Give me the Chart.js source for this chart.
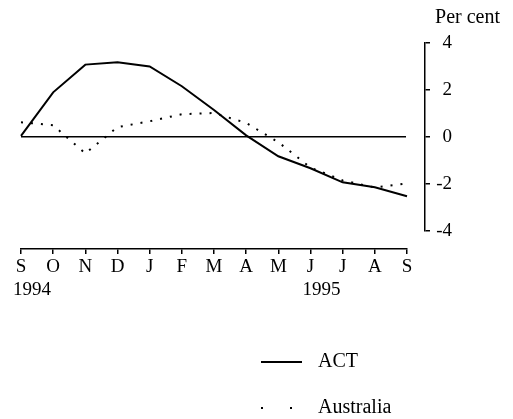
<!DOCTYPE html>
<html>
<head>
<meta charset="utf-8">
<script src="https://cdn.jsdelivr.net/npm/chart.js@4"></script>
<style>
  html, body { margin: 0; padding: 0; background: #fff; }
  #wrap { width: 513px; height: 419px; }
</style>
</head>
<body>
<div id="wrap"><canvas id="newChart"></canvas></div>
<script>
'use strict';

let months = ['S', 'O', 'N', 'D', 'J', 'F', 'M', 'A', 'M', 'J', 'J', 'A', 'S'];
let years = ['1994', '', '', '', '', '', '', '', '', '1995', '', '', ''];
let actValues = [0.05, 1.9, 3.08, 3.18, 3.0, 2.16, 1.15, 0.07, -0.82, -1.33, -1.93, -2.14, -2.52];
let ausValues = [0.63, 0.5, -0.7, 0.42, 0.67, 0.97, 1.02, 0.6, -0.22, -1.3, -1.85, -2.15, -1.97];
let yTicks = [-4, -2, 0, 2, 4];

Chart.defaults.font.family = "'Liberation Serif', 'Times New Roman', serif";
Chart.defaults.color = '#000';

// legend rows go under each other, below the month axis
const stackLegend = {
  id: 'stackLegend',
  beforeDraw(chart) {
    let lg = chart.legend;
    lg.left = 235;
    lg.right = 405;
    lg.top = 326;
    lg.bottom = 419;
  }
};

// keeps a gap between the plot and the axis lines
function padAxis(size, horizontal) {
  return function(scale) {
    if (horizontal) {
      scale.height = size;
    } else {
      scale.width = size;
    }
  };
}

const legendDash = [[41, 100], [2, 27, 2, 100]];

const config = {
  type: 'line',
  data: {
    labels: months,
    datasets: [{
      label: 'ACT',
      data: actValues,
      xAxisID: 'x',
      yAxisID: 'y',
      borderColor: '#000',
      backgroundColor: '#000',
      borderWidth: 2,
      pointRadius: 0,
      tension: 0
    },
    {
      label: 'Australia',
      data: ausValues,
      xAxisID: 'x',
      yAxisID: 'y',
      borderColor: '#000',
      backgroundColor: '#000',
      borderWidth: 2,
      borderDash: [2, 8],
      pointRadius: 0,
      tension: 0
    }]
  },
  options: {
    responsive: true,
    maintainAspectRatio: false,
    animation: false,
    layout: { padding: { left: 21, right: 13, top: 0, bottom: 63 } },
    scales: {
      x: {
        type: 'category',
        position: 'bottom',
        weight: 1,
        grid: { drawOnChartArea: false, tickLength: 5, color: '#000', lineWidth: 1.5 },
        border: { display: true, color: '#000', width: 1.5 },
        ticks: { autoSkip: false, maxRotation: 0, padding: 4, color: '#000', font: { size: 19, lineHeight: 1 } }
      },
      xPad: {
        type: 'category',
        position: 'bottom',
        weight: 0,
        labels: months,
        grid: { display: false, drawTicks: false },
        border: { display: false },
        ticks: { display: false },
        afterFit: padAxis(18, true)
      },
      xYear: {
        type: 'category',
        position: 'bottom',
        weight: 2,
        labels: years,
        grid: { display: false, drawTicks: false },
        border: { display: false },
        ticks: { autoSkip: false, maxRotation: 0, padding: 0, labelOffset: 11, color: '#000', font: { size: 19, lineHeight: 1 } }
      },
      y: {
        position: 'right',
        weight: 1,
        min: -4,
        max: 4,
        afterBuildTicks: function(scale) {
          scale.ticks = yTicks.map(v => ({ value: v }));
        },
        grid: {
          drawOnChartArea: true,
          color: ctx => (ctx.tick && ctx.tick.value === 0) ? '#000' : 'rgba(0,0,0,0)',
          lineWidth: 1.5,
          tickColor: '#000',
          tickLength: 5
        },
        border: { display: true, color: '#000', width: 1.5 },
        ticks: { padding: 2, crossAlign: 'far', color: '#000', font: { size: 19 } },
        afterFit: padAxis(27, false)
      },
      yPad: {
        position: 'right',
        weight: 0,
        min: -4,
        max: 4,
        grid: { display: false, drawTicks: false },
        border: { display: false },
        ticks: { display: false },
        afterFit: padAxis(18, false)
      },
      yOuter: {
        position: 'right',
        weight: 2,
        min: -4,
        max: 4,
        grid: { display: false, drawTicks: false },
        border: { display: false },
        ticks: { display: false },
        afterFit: padAxis(48, false)
      }
    },
    plugins: {
      title: {
        display: true,
        text: 'Per cent',
        align: 'end',
        color: '#000',
        font: { size: 20, weight: 'normal' },
        padding: { top: 6, bottom: 13 }
      },
      legend: {
        position: 'bottom',
        align: 'start',
        labels: {
          boxWidth: 47,
          boxHeight: 0,
          padding: 26,
          color: '#000',
          font: { size: 20 },
          generateLabels: function(chart) {
            let items = Chart.defaults.plugins.legend.labels.generateLabels(chart);
            items.forEach((item, i) => {
              item.lineDash = legendDash[i];
              item.lineWidth = 2;
              item.lineCap = 'butt';
            });
            return items;
          }
        }
      },
      tooltip: { enabled: false }
    }
  },
  plugins: [stackLegend]
};

const newChart = new Chart(document.getElementById('newChart'), config);
</script>
</body>
</html>
